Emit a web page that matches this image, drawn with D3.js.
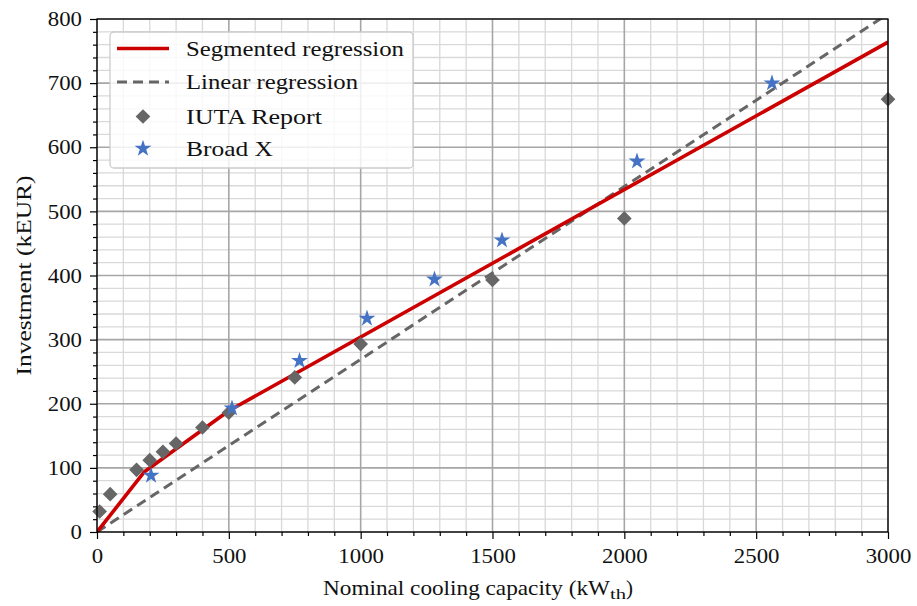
<!DOCTYPE html>
<html>
<head>
<meta charset="utf-8">
<script src="https://cdn.jsdelivr.net/npm/d3@7"></script>
<style>
html,body{margin:0;padding:0;background:#fff;}
svg{display:block;}
text{font-family:"Liberation Serif","DejaVu Serif",serif;fill:#111;}
</style>
</head>
<body>
<svg id="chart" width="917" height="606"></svg>
<script>
// ---- data ----
const iutaCapacity = [10, 50, 150, 200, 250, 300, 400, 500, 750, 1000, 1500, 2000, 3000];
const iutaInvest   = [32, 59, 97, 112, 125, 138, 163, 186, 241, 293, 393, 489, 675];
const broadCapacity = [205, 512, 768, 1024, 1280, 1536, 2048, 2560];
const broadInvest   = [88, 193, 267, 333, 394, 455, 578, 700];
const segX = [0, 180, 500, 3000];
const segY = [0, 94, 189, 764];
const linX = [0, 3000];
const linY = [0, 808];
const xTicks = [0, 500, 1000, 1500, 2000, 2500, 3000];
const yTicks = [0, 100, 200, 300, 400, 500, 600, 700, 800];
const legendLabels = ["Segmented regression", "Linear regression", "IUTA Report", "Broad X"];

// ---- layout ----
const W = 917, H = 606;
const m = {left: 97, top: 19, right: 29, bottom: 74};
const pw = W - m.left - m.right, ph = H - m.top - m.bottom;
const svg = d3.select("#chart");
const g = svg.append("g").attr("transform", `translate(${m.left},${m.top})`);

const x = d3.scaleLinear().domain([0, 3000]).range([0, pw]);
const y = d3.scaleLinear().domain([0, 800]).range([ph, 0]);

const xMinor = d3.range(0, 3001, 100);
const yMinor = d3.range(0, 801, 20);

// minor grid
g.append("g").selectAll("line").data(xMinor.filter(v => v % 500 !== 0)).join("line")
  .attr("x1", d => x(d)).attr("x2", d => x(d)).attr("y1", 0).attr("y2", ph)
  .attr("stroke", "#d9d9d9").attr("stroke-width", 1.3);
g.append("g").selectAll("line").data(yMinor.filter(v => v % 100 !== 0)).join("line")
  .attr("y1", d => y(d)).attr("y2", d => y(d)).attr("x1", 0).attr("x2", pw)
  .attr("stroke", "#d9d9d9").attr("stroke-width", 1.3);
// major grid
g.append("g").selectAll("line").data(xTicks).join("line")
  .attr("x1", d => x(d)).attr("x2", d => x(d)).attr("y1", 0).attr("y2", ph)
  .attr("stroke", "#a6a6a6").attr("stroke-width", 1.6);
g.append("g").selectAll("line").data(yTicks).join("line")
  .attr("y1", d => y(d)).attr("y2", d => y(d)).attr("x1", 0).attr("x2", pw)
  .attr("stroke", "#a6a6a6").attr("stroke-width", 1.6);

// clip
svg.append("defs").append("clipPath").attr("id", "clip")
  .append("rect").attr("width", pw).attr("height", ph);
const plot = g.append("g").attr("clip-path", "url(#clip)");

const line = d3.line().x(d => x(d[0])).y(d => y(d[1]));
plot.append("path").datum(linX.map((v, i) => [v, linY[i]]))
  .attr("d", line).attr("fill", "none").attr("stroke", "#666666")
  .attr("stroke-width", 3).attr("stroke-dasharray", "10,6");
plot.append("path").datum(segX.map((v, i) => [v, segY[i]]))
  .attr("d", line).attr("fill", "none").attr("stroke", "#cc0000")
  .attr("stroke-width", 3.6).attr("stroke-linejoin", "round");

const diamond = d3.symbol().type(d3.symbolSquare).size(108);
const star = d3.symbol().type(d3.symbolStar).size(88);

g.append("g").selectAll("path").data(iutaCapacity).join("path")
  .attr("d", diamond)
  .attr("transform", (d, i) => `translate(${x(d)},${y(iutaInvest[i])}) rotate(45)`)
  .attr("fill", "#666666");
g.append("g").selectAll("path").data(broadCapacity).join("path")
  .attr("d", star)
  .attr("transform", (d, i) => `translate(${x(d)},${y(broadInvest[i])})`)
  .attr("fill", "#4472c4");

// axes
const fs = 21;
const xAxis = g.append("g").attr("transform", `translate(0,${ph})`)
  .call(d3.axisBottom(x).tickValues(xTicks).tickSize(7).tickPadding(6).tickFormat(d3.format("d")));
const xAxisMinor = g.append("g").attr("transform", `translate(0,${ph})`)
  .call(d3.axisBottom(x).tickValues(xMinor.filter(v => v % 500 !== 0)).tickSize(4).tickFormat(""));
const yAxis = g.append("g")
  .call(d3.axisLeft(y).tickValues(yTicks).tickSize(7).tickPadding(8).tickFormat(d3.format("d")));
const yAxisMinor = g.append("g")
  .call(d3.axisLeft(y).tickValues(yMinor.filter(v => v % 100 !== 0)).tickSize(4).tickFormat(""));
[xAxis, xAxisMinor, yAxis, yAxisMinor].forEach(a => {
  a.select(".domain").remove();
  a.selectAll(".tick line").attr("stroke", "#000").attr("stroke-width", 1.2);
  a.selectAll("text").attr("font-size", fs).attr("font-family", "Liberation Serif").attr("fill", "#111")
    .attr("textLength", function() { return this.textContent.length * 11.4; })
    .attr("lengthAdjust", "spacingAndGlyphs");
});
xAxis.selectAll("text").attr("dy", "0.85em");
// frame
g.append("rect").attr("width", pw).attr("height", ph)
  .attr("fill", "none").attr("stroke", "#000").attr("stroke-width", 1.3);

// axis labels
const xl = svg.append("text").attr("x", 323).attr("y", 595)
  .attr("text-anchor", "start").attr("font-size", fs);
xl.append("tspan").attr("textLength", 287).attr("lengthAdjust", "spacingAndGlyphs")
  .text("Nominal cooling capacity (kW");
xl.append("tspan").attr("font-size", 15).attr("dy", 4)
  .attr("textLength", 16).attr("lengthAdjust", "spacingAndGlyphs").text("th");
xl.append("tspan").attr("dy", -4).text(")");
svg.append("text").attr("transform", `translate(31,${m.top + ph / 2}) rotate(-90)`)
  .attr("text-anchor", "middle").attr("font-size", fs)
  .attr("textLength", 200).attr("lengthAdjust", "spacingAndGlyphs")
  .text("Investment (kEUR)");

// legend
const legendWidths = [218, 172, 136, 87];
const lg = svg.append("g").attr("transform", "translate(110,32)");
lg.append("rect").attr("width", 303).attr("height", 136).attr("rx", 4)
  .attr("fill", "#fff").attr("fill-opacity", 0.82).attr("stroke", "#cccccc").attr("stroke-width", 1.3);
const rowY = [16.5, 50, 84.5, 116.5];
lg.append("line").attr("x1", 7).attr("x2", 59).attr("y1", rowY[0]).attr("y2", rowY[0])
  .attr("stroke", "#cc0000").attr("stroke-width", 3.6);
lg.append("line").attr("x1", 7).attr("x2", 59).attr("y1", rowY[1]).attr("y2", rowY[1])
  .attr("stroke", "#666666").attr("stroke-width", 3).attr("stroke-dasharray", "10,6");
lg.append("path").attr("d", diamond).attr("transform", `translate(33,${rowY[2]}) rotate(45)`).attr("fill", "#666666");
lg.append("path").attr("d", star).attr("transform", `translate(33,${rowY[3]})`).attr("fill", "#4472c4");
lg.selectAll("text.lab").data(legendLabels).join("text").attr("class", "lab")
  .attr("x", 76).attr("y", (d, i) => rowY[i]).attr("dy", "0.35em")
  .attr("font-size", fs)
  .attr("textLength", (d, i) => legendWidths[i]).attr("lengthAdjust", "spacingAndGlyphs")
  .text(d => d);
</script>
</body>
</html>
